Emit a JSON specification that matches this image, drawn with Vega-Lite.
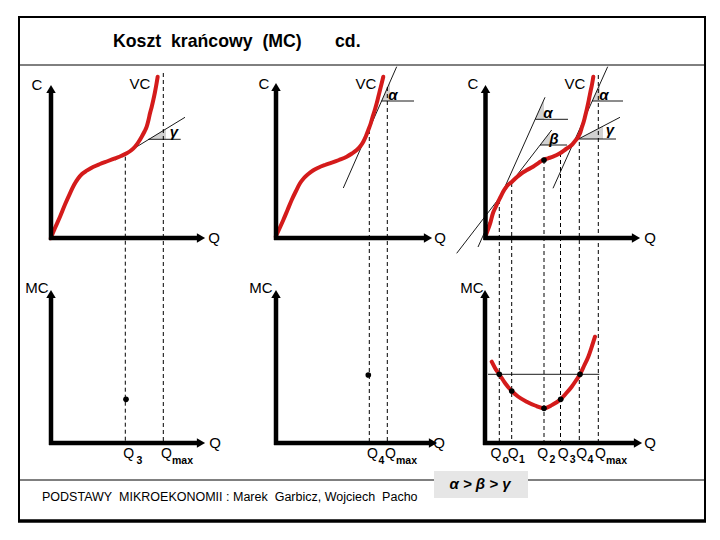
{
  "$schema": "https://vega.github.io/schema/vega-lite/v6.json",
  "width": 720,
  "height": 540,
  "padding": 0,
  "autosize": {"type": "fit", "contains": "padding"},
  "background": "white",
  "config": {"view": {"stroke": null}},
  "datasets": {
    "frame": [
      {"x": 18, "y": 17, "x2": 706, "y2": 17, "w": "thin2"},
      {"x": 19, "y": 16, "x2": 19, "y2": 522, "w": "thin2"},
      {"x": 705, "y": 16, "x2": 705, "y2": 522, "w": "thin2"},
      {"x": 18, "y": 521, "x2": 706, "y2": 521, "w": "thick"},
      {"x": 19, "y": 65, "x2": 705, "y2": 65, "w": "thin1"},
      {"x": 19, "y": 480, "x2": 434, "y2": 480, "w": "thin1"},
      {"x": 528, "y": 480, "x2": 705, "y2": 480, "w": "thin1"}
    ],
    "box": [{"x": 434, "y": 471, "x2": 528, "y2": 498}],
    "wedges": [
      {"id": "w1", "x": 149, "y": 139, "y2": 139},
      {"id": "w1", "x": 166, "y": 128.7, "y2": 139},
      {"id": "w2", "x": 381.6, "y": 101, "y2": 101},
      {"id": "w2", "x": 390, "y": 82, "y2": 101},
      {"id": "w3", "x": 535.3, "y": 119.3, "y2": 119.3},
      {"id": "w3", "x": 544, "y": 100, "y2": 119.3},
      {"id": "w4", "x": 540.1, "y": 145, "y2": 145},
      {"id": "w4", "x": 550, "y": 132.2, "y2": 145},
      {"id": "w5", "x": 592.2, "y": 101, "y2": 101},
      {"id": "w5", "x": 600, "y": 83.8, "y2": 101},
      {"id": "w6", "x": 578.5, "y": 139, "y2": 139},
      {"id": "w6", "x": 603, "y": 126.2, "y2": 139}
    ],
    "dashed": [
      {"x": 125.3, "y": 156.7, "x2": 125.3, "y2": 443},
      {"x": 163.3, "y": 73, "x2": 163.3, "y2": 443},
      {"x": 369.3, "y": 130, "x2": 369.3, "y2": 443},
      {"x": 387.3, "y": 87, "x2": 387.3, "y2": 443},
      {"x": 499.3, "y": 200, "x2": 499.3, "y2": 443},
      {"x": 511.7, "y": 183, "x2": 511.7, "y2": 443},
      {"x": 544, "y": 160, "x2": 544, "y2": 443},
      {"x": 560.5, "y": 153, "x2": 560.5, "y2": 443},
      {"x": 579.3, "y": 142, "x2": 579.3, "y2": 443},
      {"x": 598.3, "y": 75, "x2": 598.3, "y2": 443}
    ],
    "thin": [
      {"x": 115, "y": 160, "x2": 185, "y2": 117.3},
      {"x": 148.3, "y": 139.3, "x2": 180.7, "y2": 139.3},
      {"x": 343.3, "y": 188, "x2": 396.7, "y2": 66.7},
      {"x": 381.6, "y": 101, "x2": 414, "y2": 101},
      {"x": 478, "y": 247, "x2": 545, "y2": 97.3},
      {"x": 535.3, "y": 119.3, "x2": 568, "y2": 119.3},
      {"x": 456.7, "y": 253.3, "x2": 551.7, "y2": 130},
      {"x": 540, "y": 145, "x2": 567, "y2": 145},
      {"x": 553, "y": 188.3, "x2": 607.7, "y2": 66.7},
      {"x": 592.2, "y": 101, "x2": 623, "y2": 101},
      {"x": 573.3, "y": 141.7, "x2": 620, "y2": 117.3},
      {"x": 578.5, "y": 139, "x2": 616, "y2": 139},
      {"x": 488, "y": 374.3, "x2": 599.3, "y2": 374.3}
    ],
    "curves": [
      {"id": "vc1", "i": 0, "x": 50.7, "y": 238.3},
      {"id": "vc1", "i": 1, "x": 55, "y": 228},
      {"id": "vc1", "i": 2, "x": 60, "y": 216.7},
      {"id": "vc1", "i": 3, "x": 65, "y": 204.5},
      {"id": "vc1", "i": 4, "x": 70, "y": 193.3},
      {"id": "vc1", "i": 5, "x": 74, "y": 185},
      {"id": "vc1", "i": 6, "x": 78.3, "y": 178.3},
      {"id": "vc1", "i": 7, "x": 82, "y": 174},
      {"id": "vc1", "i": 8, "x": 86.7, "y": 170.7},
      {"id": "vc1", "i": 9, "x": 93, "y": 167},
      {"id": "vc1", "i": 10, "x": 100, "y": 164},
      {"id": "vc1", "i": 11, "x": 108, "y": 161},
      {"id": "vc1", "i": 12, "x": 115, "y": 158.3},
      {"id": "vc1", "i": 13, "x": 121, "y": 156},
      {"id": "vc1", "i": 14, "x": 126.7, "y": 153.3},
      {"id": "vc1", "i": 15, "x": 131, "y": 150.5},
      {"id": "vc1", "i": 16, "x": 135, "y": 146.7},
      {"id": "vc1", "i": 17, "x": 138.5, "y": 142},
      {"id": "vc1", "i": 18, "x": 141.7, "y": 136.7},
      {"id": "vc1", "i": 19, "x": 144.5, "y": 131.5},
      {"id": "vc1", "i": 20, "x": 146.7, "y": 126.7},
      {"id": "vc1", "i": 21, "x": 148.5, "y": 120},
      {"id": "vc1", "i": 22, "x": 150, "y": 113.3},
      {"id": "vc1", "i": 23, "x": 151.8, "y": 106.5},
      {"id": "vc1", "i": 24, "x": 153.3, "y": 100},
      {"id": "vc1", "i": 25, "x": 154.8, "y": 93},
      {"id": "vc1", "i": 26, "x": 156, "y": 86.7},
      {"id": "vc1", "i": 27, "x": 157.7, "y": 76.7},
      {"id": "vc2", "i": 0, "x": 275.7, "y": 236.7},
      {"id": "vc2", "i": 1, "x": 279.5, "y": 228.5},
      {"id": "vc2", "i": 2, "x": 283.3, "y": 220},
      {"id": "vc2", "i": 3, "x": 287.5, "y": 210},
      {"id": "vc2", "i": 4, "x": 291.7, "y": 200},
      {"id": "vc2", "i": 5, "x": 296, "y": 191},
      {"id": "vc2", "i": 6, "x": 300, "y": 183.3},
      {"id": "vc2", "i": 7, "x": 304, "y": 178},
      {"id": "vc2", "i": 8, "x": 308.3, "y": 174},
      {"id": "vc2", "i": 9, "x": 313, "y": 170.5},
      {"id": "vc2", "i": 10, "x": 318.3, "y": 167.7},
      {"id": "vc2", "i": 11, "x": 325, "y": 165},
      {"id": "vc2", "i": 12, "x": 331.7, "y": 162.7},
      {"id": "vc2", "i": 13, "x": 339, "y": 160},
      {"id": "vc2", "i": 14, "x": 346.7, "y": 156.7},
      {"id": "vc2", "i": 15, "x": 352, "y": 153.5},
      {"id": "vc2", "i": 16, "x": 356.7, "y": 150},
      {"id": "vc2", "i": 17, "x": 360.5, "y": 146},
      {"id": "vc2", "i": 18, "x": 363.3, "y": 141.7},
      {"id": "vc2", "i": 19, "x": 366, "y": 136},
      {"id": "vc2", "i": 20, "x": 368.3, "y": 130},
      {"id": "vc2", "i": 21, "x": 370.7, "y": 123.5},
      {"id": "vc2", "i": 22, "x": 372.7, "y": 116.7},
      {"id": "vc2", "i": 23, "x": 374.8, "y": 110},
      {"id": "vc2", "i": 24, "x": 376.7, "y": 103.3},
      {"id": "vc2", "i": 25, "x": 378.4, "y": 96.5},
      {"id": "vc2", "i": 26, "x": 380, "y": 90},
      {"id": "vc2", "i": 27, "x": 381.7, "y": 83.3},
      {"id": "vc2", "i": 28, "x": 383.3, "y": 76.7},
      {"id": "vc3", "i": 0, "x": 486, "y": 235},
      {"id": "vc3", "i": 1, "x": 488, "y": 229.5},
      {"id": "vc3", "i": 2, "x": 490, "y": 224},
      {"id": "vc3", "i": 3, "x": 493, "y": 213},
      {"id": "vc3", "i": 4, "x": 495.5, "y": 207.5},
      {"id": "vc3", "i": 5, "x": 498, "y": 202},
      {"id": "vc3", "i": 6, "x": 500.5, "y": 197},
      {"id": "vc3", "i": 7, "x": 503, "y": 192},
      {"id": "vc3", "i": 8, "x": 507, "y": 186},
      {"id": "vc3", "i": 9, "x": 512, "y": 181.7},
      {"id": "vc3", "i": 10, "x": 517, "y": 177},
      {"id": "vc3", "i": 11, "x": 522, "y": 173},
      {"id": "vc3", "i": 12, "x": 527, "y": 170},
      {"id": "vc3", "i": 13, "x": 533, "y": 166.7},
      {"id": "vc3", "i": 14, "x": 538, "y": 163.3},
      {"id": "vc3", "i": 15, "x": 543, "y": 160},
      {"id": "vc3", "i": 16, "x": 548, "y": 158.3},
      {"id": "vc3", "i": 17, "x": 553, "y": 156.7},
      {"id": "vc3", "i": 18, "x": 560, "y": 153.3},
      {"id": "vc3", "i": 19, "x": 566, "y": 149},
      {"id": "vc3", "i": 20, "x": 571.7, "y": 145},
      {"id": "vc3", "i": 21, "x": 575, "y": 141},
      {"id": "vc3", "i": 22, "x": 578.3, "y": 136.7},
      {"id": "vc3", "i": 23, "x": 580.5, "y": 132},
      {"id": "vc3", "i": 24, "x": 582, "y": 127},
      {"id": "vc3", "i": 25, "x": 583.7, "y": 121.7},
      {"id": "vc3", "i": 26, "x": 585, "y": 116.7},
      {"id": "vc3", "i": 27, "x": 586.6, "y": 110.3},
      {"id": "vc3", "i": 28, "x": 588, "y": 104},
      {"id": "vc3", "i": 29, "x": 589.2, "y": 98},
      {"id": "vc3", "i": 30, "x": 590.5, "y": 91.5},
      {"id": "vc3", "i": 31, "x": 592, "y": 84.5},
      {"id": "vc3", "i": 32, "x": 593.3, "y": 76.7},
      {"id": "mc", "i": 0, "x": 491.7, "y": 361.7},
      {"id": "mc", "i": 1, "x": 495, "y": 368},
      {"id": "mc", "i": 2, "x": 499.3, "y": 374.3},
      {"id": "mc", "i": 3, "x": 505, "y": 383},
      {"id": "mc", "i": 4, "x": 511.7, "y": 391},
      {"id": "mc", "i": 5, "x": 518, "y": 396.5},
      {"id": "mc", "i": 6, "x": 526.7, "y": 401.7},
      {"id": "mc", "i": 7, "x": 535, "y": 405.5},
      {"id": "mc", "i": 8, "x": 544, "y": 408.3},
      {"id": "mc", "i": 9, "x": 552, "y": 405},
      {"id": "mc", "i": 10, "x": 560.7, "y": 399.3},
      {"id": "mc", "i": 11, "x": 566, "y": 393.5},
      {"id": "mc", "i": 12, "x": 571.7, "y": 386.7},
      {"id": "mc", "i": 13, "x": 576, "y": 380.5},
      {"id": "mc", "i": 14, "x": 580, "y": 374.3},
      {"id": "mc", "i": 15, "x": 584, "y": 366},
      {"id": "mc", "i": 16, "x": 588.3, "y": 356.7},
      {"id": "mc", "i": 17, "x": 592, "y": 346},
      {"id": "mc", "i": 18, "x": 595, "y": 336.7}
    ],
    "axes": [
      {"x": 51, "y": 240, "x2": 51, "y2": 92},
      {"x": 49, "y": 238, "x2": 198, "y2": 238},
      {"x": 276, "y": 240, "x2": 276, "y2": 90},
      {"x": 274, "y": 238, "x2": 425, "y2": 238},
      {"x": 485.5, "y": 240, "x2": 485.5, "y2": 92},
      {"x": 483.5, "y": 238, "x2": 633, "y2": 238},
      {"x": 51, "y": 445, "x2": 51, "y2": 297},
      {"x": 49, "y": 443, "x2": 198, "y2": 443},
      {"x": 276, "y": 445, "x2": 276, "y2": 297},
      {"x": 274, "y": 443, "x2": 430, "y2": 443},
      {"x": 485, "y": 445, "x2": 485, "y2": 297},
      {"x": 483, "y": 443, "x2": 635, "y2": 443}
    ],
    "arrows": [
      {"x": 51, "y": 89, "dir": "up"},
      {"x": 201, "y": 238, "dir": "right"},
      {"x": 276, "y": 87, "dir": "up"},
      {"x": 428, "y": 238, "dir": "right"},
      {"x": 485.5, "y": 89, "dir": "up"},
      {"x": 636, "y": 238, "dir": "right"},
      {"x": 51, "y": 294, "dir": "up"},
      {"x": 201, "y": 443, "dir": "right"},
      {"x": 276, "y": 294, "dir": "up"},
      {"x": 433, "y": 443, "dir": "right"},
      {"x": 485, "y": 294, "dir": "up"},
      {"x": 638, "y": 443, "dir": "right"}
    ],
    "dots": [
      {"x": 544, "y": 160},
      {"x": 126, "y": 399.3},
      {"x": 368.3, "y": 375},
      {"x": 499.3, "y": 374.3},
      {"x": 511.7, "y": 391},
      {"x": 544, "y": 408.3},
      {"x": 560.7, "y": 399.3},
      {"x": 580, "y": 374.3}
    ],
    "labels": [
      {"kind": "title", "x": 113, "y": 42, "text": "Koszt\u00a0\u00a0krańcowy\u00a0\u00a0(MC)"},
      {"kind": "title", "x": 335, "y": 42, "text": "cd."},
      {"kind": "ax", "x": 37, "y": 85, "text": "C"},
      {"kind": "ax", "x": 140, "y": 84, "text": "VC"},
      {"kind": "ax", "x": 214, "y": 238, "text": "Q"},
      {"kind": "ax", "x": 264, "y": 84, "text": "C"},
      {"kind": "ax", "x": 366, "y": 84, "text": "VC"},
      {"kind": "ax", "x": 440, "y": 238, "text": "Q"},
      {"kind": "ax", "x": 473, "y": 84, "text": "C"},
      {"kind": "ax", "x": 575, "y": 84, "text": "VC"},
      {"kind": "ax", "x": 650, "y": 238, "text": "Q"},
      {"kind": "ax", "x": 37, "y": 288, "text": "MC"},
      {"kind": "ax", "x": 215, "y": 443, "text": "Q"},
      {"kind": "ax", "x": 261, "y": 288, "text": "MC"},
      {"kind": "ax", "x": 439, "y": 443, "text": "Q"},
      {"kind": "ax", "x": 472, "y": 288, "text": "MC"},
      {"kind": "ax", "x": 650, "y": 443, "text": "Q"},
      {"kind": "greek", "x": 174, "y": 132, "text": "γ"},
      {"kind": "greek", "x": 393, "y": 95, "text": "α"},
      {"kind": "greek", "x": 548, "y": 113, "text": "α"},
      {"kind": "greek", "x": 554, "y": 139, "text": "β"},
      {"kind": "greek", "x": 604, "y": 95, "text": "α"},
      {"kind": "greek", "x": 610, "y": 130, "text": "γ"},
      {"kind": "q", "x": 128.8, "y": 454, "text": "Q"},
      {"kind": "q", "x": 166.5, "y": 454, "text": "Q"},
      {"kind": "q", "x": 372.5, "y": 454, "text": "Q"},
      {"kind": "q", "x": 390.5, "y": 454, "text": "Q"},
      {"kind": "q", "x": 496, "y": 454, "text": "Q"},
      {"kind": "q", "x": 513.3, "y": 454, "text": "Q"},
      {"kind": "q", "x": 542.7, "y": 454, "text": "Q"},
      {"kind": "q", "x": 563.3, "y": 454, "text": "Q"},
      {"kind": "q", "x": 581.7, "y": 454, "text": "Q"},
      {"kind": "q", "x": 600.5, "y": 454, "text": "Q"},
      {"kind": "sub", "x": 139.3, "y": 461, "text": "3"},
      {"kind": "sub", "x": 182.5, "y": 461, "text": "max"},
      {"kind": "sub", "x": 381.5, "y": 461, "text": "4"},
      {"kind": "sub", "x": 406.5, "y": 461, "text": "max"},
      {"kind": "sub", "x": 505.7, "y": 460, "text": "o"},
      {"kind": "sub", "x": 522, "y": 460, "text": "1"},
      {"kind": "sub", "x": 552.3, "y": 460, "text": "2"},
      {"kind": "sub", "x": 572.7, "y": 460, "text": "3"},
      {"kind": "sub", "x": 590.5, "y": 460, "text": "4"},
      {"kind": "sub", "x": 616.5, "y": 461, "text": "max"},
      {"kind": "footer", "x": 42, "y": 497, "text": "PODSTAWY\u00a0 MIKROEKONOMII\u00a0: Marek\u00a0 Garbicz,\u00a0Wojciech\u00a0 Pacho"},
      {"kind": "ineq", "x": 480, "y": 484, "text": "α > β > γ"}
    ]
  },
  "encoding": {
    "x": {"field": "x", "type": "quantitative", "scale": {"domain": [0, 720], "nice": false, "zero": false}, "axis": null},
    "y": {"field": "y", "type": "quantitative", "scale": {"domain": [0, 540], "nice": false, "zero": false, "reverse": true}, "axis": null}
  },
  "layer": [
    {
      "data": {"name": "frame"},
      "transform": [{"filter": "datum.w == 'thin2'"}],
      "mark": {"type": "rule", "color": "black", "strokeWidth": 2},
      "encoding": {"x2": {"field": "x2"}, "y2": {"field": "y2"}}
    },
    {
      "data": {"name": "frame"},
      "transform": [{"filter": "datum.w == 'thick'"}],
      "mark": {"type": "rule", "color": "black", "strokeWidth": 3.5},
      "encoding": {"x2": {"field": "x2"}, "y2": {"field": "y2"}}
    },
    {
      "data": {"name": "frame"},
      "transform": [{"filter": "datum.w == 'thin1'"}],
      "mark": {"type": "rule", "color": "black", "strokeWidth": 1},
      "encoding": {"x2": {"field": "x2"}, "y2": {"field": "y2"}}
    },
    {
      "data": {"name": "box"},
      "mark": {"type": "rect", "color": "#e6e6e6"},
      "encoding": {"x2": {"field": "x2"}, "y2": {"field": "y2"}}
    },
    {
      "data": {"name": "wedges"},
      "mark": {"type": "area", "color": "#d2d2d2", "opacity": 1},
      "encoding": {"y2": {"field": "y2"}, "detail": {"field": "id"}}
    },
    {
      "data": {"name": "dashed"},
      "mark": {"type": "rule", "color": "black", "strokeWidth": 1, "strokeDash": [4, 3]},
      "encoding": {"x2": {"field": "x2"}, "y2": {"field": "y2"}}
    },
    {
      "data": {"name": "thin"},
      "mark": {"type": "rule", "color": "black", "strokeWidth": 0.9},
      "encoding": {"x2": {"field": "x2"}, "y2": {"field": "y2"}}
    },
    {
      "data": {"name": "curves"},
      "mark": {"type": "line", "color": "#d41b1b", "strokeWidth": 4, "strokeCap": "round", "strokeJoin": "round", "interpolate": "monotone"},
      "encoding": {"detail": {"field": "id"}, "order": {"field": "i", "type": "quantitative"}}
    },
    {
      "data": {"name": "axes"},
      "mark": {"type": "rule", "color": "black", "strokeWidth": 4.5},
      "encoding": {"x2": {"field": "x2"}, "y2": {"field": "y2"}}
    },
    {
      "data": {"name": "arrows"},
      "transform": [{"filter": "datum.dir == 'up'"}],
      "mark": {"type": "point", "shape": "triangle-up", "filled": true, "color": "black", "size": 90, "opacity": 1}
    },
    {
      "data": {"name": "arrows"},
      "transform": [{"filter": "datum.dir == 'right'"}],
      "mark": {"type": "point", "shape": "triangle-right", "filled": true, "color": "black", "size": 90, "opacity": 1}
    },
    {
      "data": {"name": "dots"},
      "mark": {"type": "point", "shape": "circle", "filled": true, "color": "black", "size": 32, "opacity": 1}
    },
    {
      "data": {"name": "labels"},
      "transform": [{"filter": "datum.kind == 'title'"}],
      "mark": {"type": "text", "align": "left", "baseline": "middle", "font": "Liberation Sans", "fontSize": 17.7, "fontWeight": "bold", "color": "black"},
      "encoding": {"text": {"field": "text"}}
    },
    {
      "data": {"name": "labels"},
      "transform": [{"filter": "datum.kind == 'ax'"}],
      "mark": {"type": "text", "align": "center", "baseline": "middle", "font": "Liberation Sans", "fontSize": 15, "color": "black"},
      "encoding": {"text": {"field": "text"}}
    },
    {
      "data": {"name": "labels"},
      "transform": [{"filter": "datum.kind == 'greek'"}],
      "mark": {"type": "text", "align": "center", "baseline": "middle", "font": "Liberation Sans", "fontSize": 15, "fontWeight": "bold", "fontStyle": "italic", "color": "black"},
      "encoding": {"text": {"field": "text"}}
    },
    {
      "data": {"name": "labels"},
      "transform": [{"filter": "datum.kind == 'q'"}],
      "mark": {"type": "text", "align": "center", "baseline": "middle", "font": "Liberation Sans", "fontSize": 14, "color": "black"},
      "encoding": {"text": {"field": "text"}}
    },
    {
      "data": {"name": "labels"},
      "transform": [{"filter": "datum.kind == 'sub'"}],
      "mark": {"type": "text", "align": "center", "baseline": "middle", "font": "Liberation Sans", "fontSize": 10.5, "fontWeight": "bold", "color": "black"},
      "encoding": {"text": {"field": "text"}}
    },
    {
      "data": {"name": "labels"},
      "transform": [{"filter": "datum.kind == 'footer'"}],
      "mark": {"type": "text", "align": "left", "baseline": "middle", "font": "Liberation Sans", "fontSize": 12.5, "color": "black"},
      "encoding": {"text": {"field": "text"}}
    },
    {
      "data": {"name": "labels"},
      "transform": [{"filter": "datum.kind == 'ineq'"}],
      "mark": {"type": "text", "align": "center", "baseline": "middle", "font": "Liberation Sans", "fontSize": 15, "fontWeight": "bold", "fontStyle": "italic", "color": "black"},
      "encoding": {"text": {"field": "text"}}
    }
  ]
}
